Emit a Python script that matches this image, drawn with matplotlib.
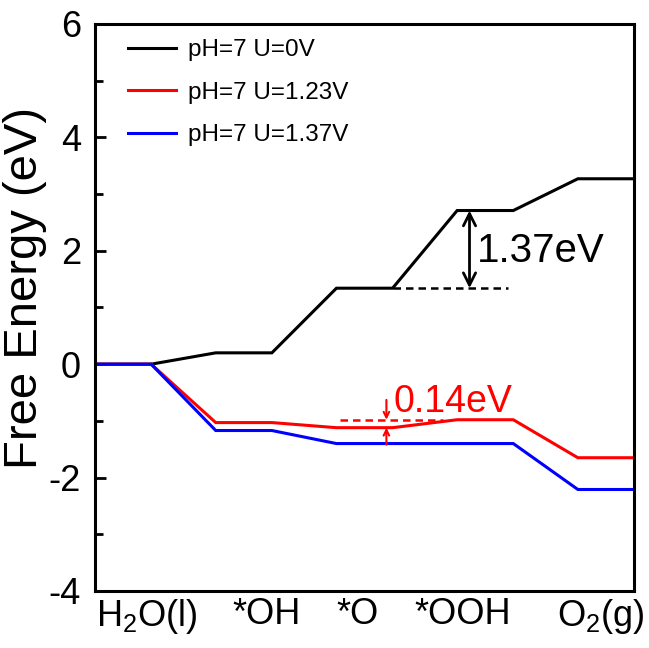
import matplotlib
matplotlib.use("Agg")
import matplotlib.pyplot as plt
import numpy as np

plt.rcParams['font.family'] = ['Liberation Sans', 'DejaVu Sans']
plt.rcParams['mathtext.default'] = 'regular'
plt.rcParams['axes.unicode_minus'] = False

states = [r'H$_2$O(l)', '*OH', '*O', '*OOH', r'O$_2$(g)']
g_u0 = [0.0, 0.20, 1.34, 2.71, 3.27]
g_u123 = [0.0, -1.03, -1.12, -0.98, -1.65]
g_u137 = [0.0, -1.17, -1.40, -1.40, -2.21]
series_labels = ['pH=7 U=0V', 'pH=7 U=1.23V', 'pH=7 U=1.37V']
series_colors = ['black', '#ff0000', '#0000ff']
ylim = (-4, 6)

W = 1.0     # width of each flat step
P = 2.15    # period between steps


def step_path(vals):
    xs, ys = [], []
    for i, v in enumerate(vals):
        xs += [i * P, i * P + W]
        ys += [v, v]
    return xs, ys


fig = plt.figure(figsize=(6.49, 6.48), dpi=100)
ax = fig.add_axes([0.1464, 0.088, 0.8305, 0.875])

for vals, lab, col in zip([g_u0, g_u123, g_u137], series_labels, series_colors):
    xs, ys = step_path(vals)
    ax.plot(xs, ys, color=col, lw=2.2, label=lab, solid_joinstyle='miter')

ax.set_xlim(0, (len(states) - 1) * P + W)
ax.set_ylim(*ylim)

# x tick labels (manually positioned like the original)
label_pos = [0.93, 3.05, 4.67, 6.54, 9.0]
ax.set_xticks(label_pos)
ax.set_xticklabels(states, fontsize=26)
ax.tick_params(axis='x', length=0, pad=4)

ax.set_yticks(np.arange(-4, 7, 2))
ax.set_yticks(np.arange(-4, 7, 1), minor=True)
ax.tick_params(axis='y', which='major', direction='in', length=8, width=2, labelsize=26, pad=10)
ax.tick_params(axis='y', which='minor', direction='in', length=6, width=2)
for s in ax.spines.values():
    s.set_linewidth(2.2)

ax.set_ylabel('Free Energy (eV)', fontsize=34)
ax.yaxis.set_label_coords(-0.09, 0.534)

leg = ax.legend(loc='upper left', frameon=False, fontsize=17.5, handlelength=2.0,
                handletextpad=0.5, labelspacing=0.85, bbox_to_anchor=(0.02, 1.012))

# 1.37 eV annotation
x_o_end = 2 * P + W
ax.plot([x_o_end, 7.36], [g_u0[2], g_u0[2]], color='black', lw=1.8, ls=(0, (3, 2)))
ax.annotate('', xy=(6.67, g_u0[3]), xytext=(6.67, g_u0[2]),
            arrowprops=dict(arrowstyle='<->', color='black', lw=2, mutation_scale=22,
                            shrinkA=0, shrinkB=0))
ax.text(6.8, 2.0, '%.2feV' % (g_u0[3] - g_u0[2]), fontsize=29, va='center', ha='left')

# 0.14 eV annotation
ax.plot([4.37, 6.2], [g_u123[3], g_u123[3]], color='#ff0000', lw=1.8, ls=(0, (3, 2)))
ax.annotate('', xy=(5.19, g_u123[3]), xytext=(5.19, -0.63),
            arrowprops=dict(arrowstyle='->', color='#ff0000', lw=1.5, mutation_scale=10,
                            shrinkA=0, shrinkB=0))
ax.annotate('', xy=(5.19, g_u123[2]), xytext=(5.19, -1.42),
            arrowprops=dict(arrowstyle='->', color='#ff0000', lw=1.5, mutation_scale=10,
                            shrinkA=0, shrinkB=0))
ax.text(5.31, -0.67, '%.2feV' % (g_u123[3] - g_u123[2]), fontsize=27, va='center',
        ha='left', color='#ff0000')

fig.savefig('out.png', dpi=100)
